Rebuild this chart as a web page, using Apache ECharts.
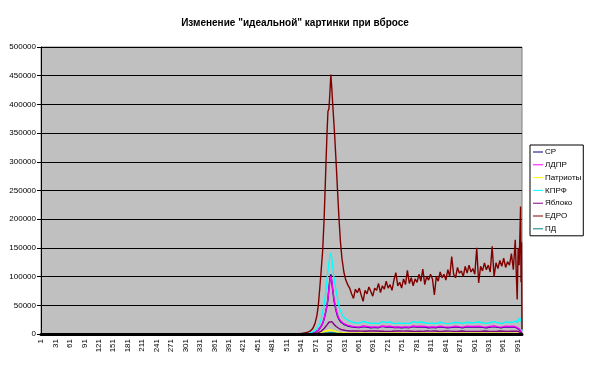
<!DOCTYPE html>
<html>
<head>
<meta charset="utf-8">
<script src="https://cdn.jsdelivr.net/npm/echarts@6/dist/echarts.min.js"></script>
<style>
html,body{margin:0;padding:0;background:#fff;}
#c{width:590px;height:367px;}
</style>
</head>
<body>
<div id="c"></div>
<script>
const titleText = 'Изменение "идеальной" картинки при вбросе';
const seriesNames = ['СР', 'ЛДПР', 'Патриоты', 'КПРФ', 'Яблоко', 'ЕДРО', 'ПД'];
const seriesColors = ['#000080', '#FF00FF', '#FFFF00', '#00FFFF', '#800080', '#800000', '#008080'];
const yTicks = [0, 50000, 100000, 150000, 200000, 250000, 300000, 350000, 400000, 450000, 500000];
const categoryCount = 1000;
const categories = Array.from({length: categoryCount}, (_, i) => String(i + 1));

// sampled category positions (shared by all series)
const samplePos = [
  1, 500, 520, 530, 540, 545, 550, 555, 560, 565, 570, 574, 577, 580, 583, 586, 589, 592, 595, 597,
  599, 601, 603, 605, 607, 609, 611, 614, 617, 620, 623, 626, 630, 634, 638,
  642, 646, 650, 654, 658, 662, 666, 670, 674, 678,
  682, 686, 690, 694, 698, 702, 706, 710, 714, 718,
  722, 726, 730, 734, 738, 742, 746, 750, 754, 758,
  762, 766, 770, 774, 778, 782, 786, 790, 794, 798,
  802, 806, 810, 814, 818, 822, 826, 830, 834, 838,
  842, 846, 850, 854, 858, 862, 866, 870, 874, 878,
  882, 886, 890, 894, 898, 902, 906, 910, 914, 918,
  922, 926, 930, 934, 938, 942, 946, 950, 954, 958,
  962, 966, 970, 974, 978, 982,
  986, 988, 990, 992, 994, 996, 997, 998, 999, 1000
];

const srValues = [
  0, 0, 0, 0, 100, 200, 400, 700, 1000, 1700, 2800, 4300, 6500, 9500, 13500, 18500, 26000, 37000, 49000, 61000,
  80000, 95000, 104000, 90000, 76000, 62000, 52000, 40000, 31000, 25500, 21500, 19000, 17000, 15000, 14000,
  13000, 12500, 12800, 11500, 12500, 11200, 12000, 13000, 11500, 12200,
  13000, 11000, 12500, 11500, 12500, 11000, 12000, 13200, 11500, 12000,
  11000, 12500, 11500, 11200, 12500, 11500, 13000, 11000, 12000, 11500,
  12500, 11000, 12000, 13000, 11000, 12000, 11500, 12500, 11000, 12000,
  12500, 11000, 12000, 11500, 12500, 11000, 11500, 12500, 11000, 11500,
  12500, 11000, 12000, 11500, 11000, 12500, 11000, 11500, 12500, 11000,
  11500, 12500, 11000, 12000, 11000, 12000, 11000, 12500, 11000, 11500,
  12500, 11000, 11500, 12000, 11000, 13000, 11000, 11500, 12500, 11000,
  11500, 12500, 11000, 12000, 11500, 12500,
  12000, 11000, 10000, 11000, 8000, 7000, 5000, 3500, 1800, 400
];

const ldprValues = [
  0, 0, 0, 0, 100, 200, 400, 700, 1000, 1800, 3000, 4500, 7000, 10000, 14000, 19000, 27000, 38000, 50000, 62000,
  78000, 92000, 101000, 92000, 78000, 64000, 54000, 42000, 33000, 27000, 23000, 20000, 18000, 16000, 15000,
  14500, 13500, 14000, 12500, 13500, 12000, 13000, 14000, 12500, 13000,
  14000, 12000, 13500, 12500, 13500, 12000, 13000, 14000, 12500, 13000,
  12000, 13500, 12500, 12000, 13500, 12500, 14000, 12000, 13000, 12500,
  13500, 12000, 13000, 14000, 12000, 13000, 12500, 13500, 12000, 13000,
  13500, 12000, 13000, 12500, 13500, 12000, 12500, 13500, 12000, 12500,
  13500, 12000, 13000, 12500, 12000, 13500, 12000, 12500, 13500, 12000,
  12500, 13500, 12000, 13000, 12000, 13000, 12000, 13500, 12000, 12500,
  13500, 12000, 12500, 13000, 12000, 14000, 12000, 12500, 13500, 12000,
  12500, 13500, 12000, 13000, 12500, 13500,
  13000, 12000, 11000, 12000, 9000, 8000, 6000, 4000, 2000, 500
];

const patriotsValues = [
  0, 0, 0, 0, 0, 50, 100, 200, 300, 450, 700, 1000, 1400, 1900, 2500, 3200, 4000, 4800, 5600, 6100,
  6600, 6900, 7000, 6700, 6200, 5600, 5000, 4200, 3500, 2900, 2500, 2200, 1900, 1700, 1600,
  1500, 1400, 1600, 1300, 1500, 1400, 1700, 1300, 1500, 1400,
  1600, 1300, 1500, 1400, 1600, 1200, 1500, 1400, 1600, 1300,
  1500, 1400, 1300, 1600, 1400, 1500, 1300, 1600, 1400, 1500,
  1300, 1500, 1400, 1600, 1300, 1500, 1400, 1300, 1600, 1400,
  1500, 1300, 1400, 1600, 1400, 1300, 1500, 1400, 1600, 1300,
  1500, 1400, 1300, 1500, 1600, 1400, 1300, 1500, 1400, 1600,
  1300, 1500, 1400, 1300, 1600, 1400, 1500, 1300, 1400, 1600,
  1400, 1300, 1500, 1400, 1600, 1300, 1500, 1400, 1300, 1500,
  1400, 1600, 1300, 1500, 1400, 1500,
  1400, 1500, 1300, 1400, 1200, 1300, 1000, 800, 500, 200
];

const kprfValues = [
  0, 0, 0, 100, 300, 500, 800, 1200, 2000, 3500, 6000, 10000, 14000, 19000, 27000, 38000, 50000, 70000, 94000, 110000,
  124000, 136000, 141000, 132000, 116000, 101000, 90000, 75000, 62000, 48000, 40000, 34000, 29000, 26000, 24000,
  23000, 21000, 22000, 19500, 21500, 19000, 20500, 22000, 19000, 20000,
  21500, 18500, 20500, 19000, 21000, 18000, 20000, 21500, 19000, 20000,
  18500, 21000, 19500, 18000, 20500, 19000, 22000, 18500, 20000, 19000,
  21000, 18000, 19500, 21500, 18500, 20000, 19000, 21000, 18000, 19500,
  20500, 18500, 20000, 19000, 21000, 18000, 19500, 20500, 18500, 19000,
  21000, 18000, 20000, 19000, 18500, 20500, 18000, 19500, 21000, 18500,
  19000, 20500, 18000, 19500, 18500, 20000, 18500, 21000, 18000, 19500,
  20500, 18500, 19000, 20000, 18000, 21500, 18500, 19500, 20500, 18000,
  19500, 21000, 18500, 20000, 19000, 21000,
  20000, 23000, 19000, 24000, 21000, 28000, 30000, 22000, 26000, 5000
];

const yablokoValues = [
  0, 0, 0, 0, 0, 100, 200, 300, 500, 800, 1200, 1800, 2500, 3500, 5000, 7000, 9500, 12500, 16000, 18500,
  20500, 22000, 22600, 21500, 19500, 17500, 15500, 13000, 11000, 9500, 8200, 7300, 6500, 6000, 5600,
  5300, 5000, 5200, 4700, 5100, 4600, 5000, 5400, 4800, 5000,
  5300, 4600, 5100, 4800, 5200, 4500, 4900, 5300, 4700, 5000,
  4600, 5200, 4800, 4500, 5100, 4700, 5400, 4600, 5000, 4800,
  5200, 4500, 4900, 5300, 4600, 5000, 4800, 5200, 4500, 4900,
  5200, 4600, 5000, 4800, 5300, 4500, 4900, 5200, 4600, 4800,
  5200, 4500, 5000, 4800, 4600, 5200, 4500, 4900, 5300, 4600,
  4800, 5200, 4500, 5000, 4600, 5100, 4600, 5300, 4500, 4900,
  5200, 4600, 4800, 5100, 4500, 5400, 4600, 4900, 5200, 4500,
  4900, 5200, 4600, 5000, 4800, 5200,
  5000, 4800, 4500, 4700, 4000, 3800, 3000, 2200, 1200, 500
];

const edroValues = [
  0, 0, 300, 500, 1000, 1500, 2200, 3200, 5000, 9000, 18000, 32000, 50000, 80000, 112000, 145000, 200000, 275000, 350000, 388000,
  392000, 420000, 452000, 428000, 398000, 372000, 345000, 298000, 248000, 200000, 160000, 132000, 108000, 94000, 86000,
  80000, 70000, 62000, 78000, 72000, 80000, 68000, 57000, 76000, 70000,
  82000, 74000, 66000, 80000, 76000, 88000, 72000, 84000, 78000, 92000,
  80000, 86000, 76000, 94000, 107000, 84000, 90000, 80000, 96000, 86000,
  111000, 88000, 98000, 84000, 96000, 90000, 104000, 92000, 113000, 86000,
  100000, 94000, 104000, 96000, 68000, 100000, 92000, 108000, 98000, 104000,
  94000, 112000, 100000, 135000, 104000, 98000, 116000, 106000, 110000, 100000,
  118000, 106000, 120000, 108000, 114000, 104000, 150000, 89000, 118000, 110000,
  124000, 112000, 120000, 108000, 153000, 100000, 124000, 114000, 128000, 118000,
  132000, 116000, 126000, 120000, 140000, 112000,
  164000, 110000, 60000, 150000, 120000, 185000, 222000, 90000, 160000, 8000
];

const pdValues = [
  0, 0, 0, 0, 0, 20, 50, 80, 120, 180, 260, 350, 450, 600, 800, 1000, 1300, 1600, 1900, 2100,
  2300, 2400, 2500, 2400, 2200, 2000, 1800, 1500, 1200, 1000, 900, 800, 700, 650, 600,
  600, 550, 580, 500, 560, 480, 520, 580, 500, 540,
  570, 480, 540, 500, 560, 470, 520, 580, 490, 530,
  480, 560, 500, 470, 550, 500, 590, 480, 530, 500,
  560, 470, 520, 580, 480, 530, 500, 560, 470, 520,
  560, 480, 530, 500, 570, 470, 510, 560, 480, 500,
  560, 470, 530, 500, 480, 560, 470, 510, 570, 480,
  500, 560, 470, 530, 480, 540, 480, 570, 470, 510,
  560, 480, 500, 540, 470, 580, 480, 510, 560, 470,
  510, 560, 480, 530, 500, 560,
  520, 480, 500, 470, 450, 400, 350, 300, 200, 100
];

const allValues = [srValues, ldprValues, patriotsValues, kprfValues, yablokoValues, edroValues, pdValues];
allValues.forEach((arr, k) => {
  if (arr.length !== samplePos.length) throw new Error('length mismatch ' + seriesNames[k] + ' ' + arr.length + ' vs ' + samplePos.length);
});

const FONT = '"Liberation Sans", Arial, sans-serif';
const chart = echarts.init(document.getElementById('c'), null, {renderer: 'canvas'});
chart.setOption({
  animation: false,
  backgroundColor: '#ffffff',
  title: {
    text: titleText,
    left: 'center',
    top: 13,
    textStyle: {fontFamily: FONT, fontSize: 10, fontWeight: 'bold', color: '#000'}
  },
  legend: {
    orient: 'vertical',
    left: 530,
    top: 145,
    data: seriesNames,
    icon: 'rect',
    itemWidth: 10,
    itemHeight: 1,
    itemGap: 2.8,
    padding: [2, 2, 2, 3],
    backgroundColor: '#ffffff',
    borderColor: '#000000',
    borderWidth: 1,
    borderRadius: 0,
    textStyle: {fontFamily: FONT, fontSize: 8, color: '#000', lineHeight: 10, padding: [0, 0, 0, -3]}
  },
  grid: {
    left: 41, right: 68, top: 47, bottom: 33,
    show: true,
    backgroundColor: '#C0C0C0',
    borderColor: '#808080',
    borderWidth: 1
  },
  xAxis: {
    type: 'category',
    data: categories,
    boundaryGap: false,
    z: 10,
    axisLine: {lineStyle: {color: '#000', width: 3}},
    axisTick: {show: false},
    axisLabel: {interval: 29, rotate: 90, fontFamily: FONT, fontSize: 8, color: '#000', margin: 5},
    splitLine: {show: false}
  },
  yAxis: {
    type: 'value',
    min: yTicks[0],
    max: yTicks[yTicks.length - 1],
    interval: yTicks[1] - yTicks[0],
    axisLine: {show: true, lineStyle: {color: '#000', width: 1}},
    axisTick: {show: true, length: 4, lineStyle: {color: '#000'}},
    axisLabel: {fontFamily: FONT, fontSize: 8, color: '#000', margin: 5, formatter: v => String(v)},
    splitLine: {show: true, lineStyle: {color: '#000', width: 1}}
  },
  series: seriesNames.map((name, k) => ({
    name: name,
    type: 'line',
    symbol: 'none',
    color: seriesColors[k],
    lineStyle: {width: 1.4, color: seriesColors[k]},
    data: samplePos.map((c, i) => [String(c), allValues[k][i]])
  }))
});
</script>
</body>
</html>
